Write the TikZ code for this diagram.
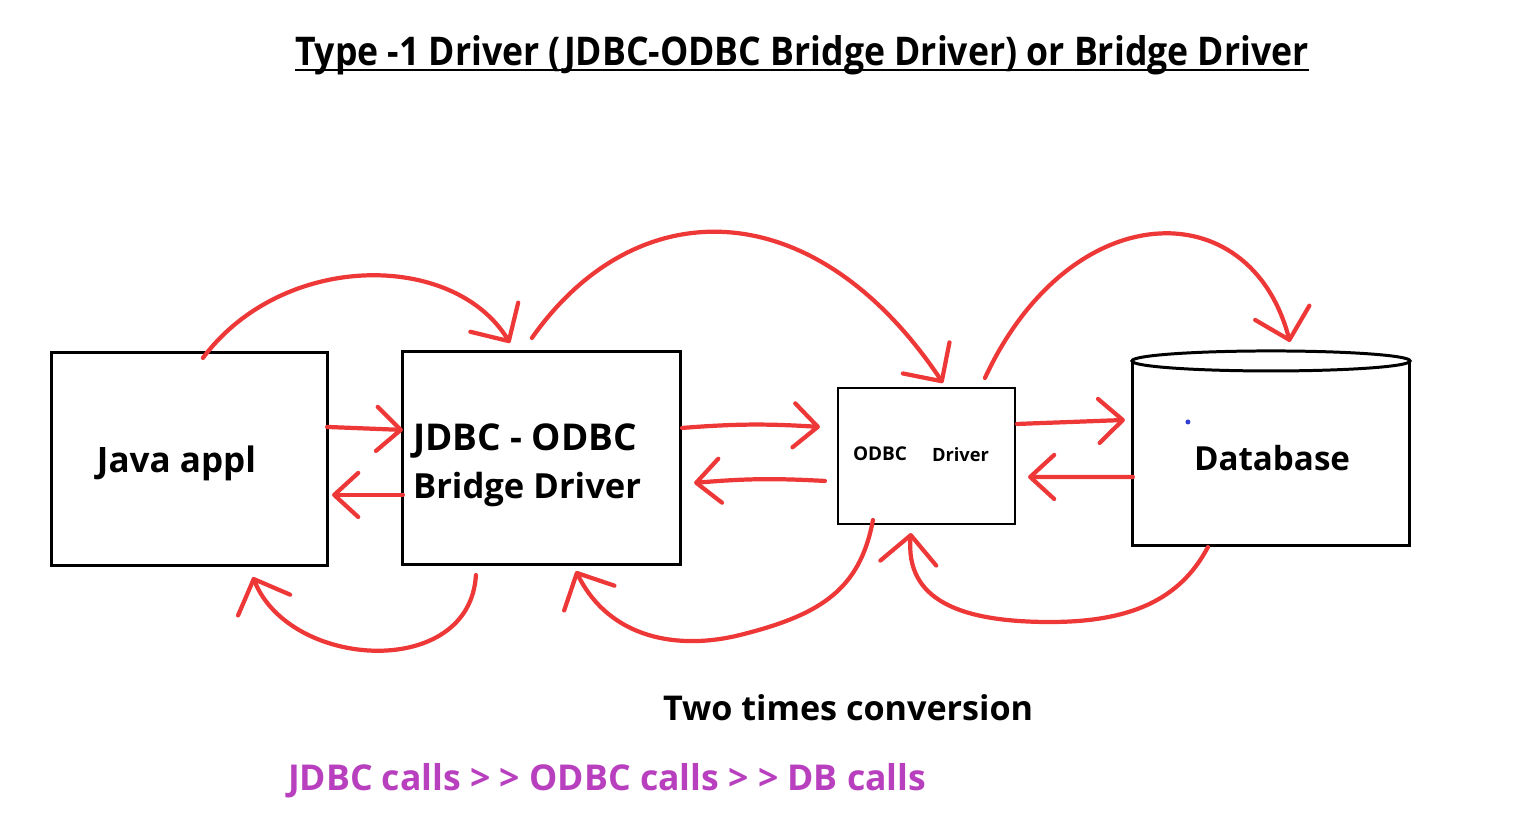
\documentclass[tikz,border=0pt]{standalone}
\usepackage{fontspec}
\setmainfont{Open Sans}
\usepackage{graphicx}
\usetikzlibrary{arrows.meta,calc}
\definecolor{penred}{RGB}{238,56,56}
\definecolor{callpurple}{RGB}{184,64,191}
\definecolor{dotblue}{RGB}{48,64,208}
\newcommand{\fitto}[2]{\resizebox{#1}{!}{\bfseries #2}}
\begin{document}
\begin{tikzpicture}[x=0.01cm,y=-0.01cm,
  box/.style={draw, line width=0.85pt, inner sep=0pt, outer sep=0pt},
  lbl/.style={inner sep=0pt, outer sep=0pt, anchor=base west},
  arr/.style={draw=penred, line width=1.2pt, line cap=round, line join=round,
    -{Straight Barb[length=2.4mm,width=4.4mm,round]}},
  bigarr/.style={arr, -{Straight Barb[length=2.8mm,width=5.6mm,round]}}]
\fill[white] (0,0) rectangle (1517,824);
\useasboundingbox (0,0) rectangle (1517,824);

% title
\node[lbl] (title) at (295,65) {\resizebox{10.13cm}{0.30cm}{\bfseries Type -1 Driver (JDBC-ODBC Bridge Driver) or Bridge Driver}};
\draw[line width=0.75pt] ($(title.base west)+(0,5)$) -- ($(title.base east)+(0,5)$);

% boxes
\node[box, minimum width=2.75cm, minimum height=2.12cm] (java) at (189.5,459) {};
\node[box, minimum width=2.77cm, minimum height=2.12cm] (jdbc) at (541.5,458) {};
\node[box, line width=0.6pt, minimum width=1.77cm, minimum height=1.36cm] (odbc) at (926.5,456) {};
\node[inner sep=0pt, outer sep=0pt, minimum width=2.76cm, minimum height=1.84cm] (db) at (1271,453) {};
\draw[line width=0.85pt] (db.north west) -- (db.south west) -- (db.south east) -- (db.north east);
\draw[line width=0.85pt, fill=white] (db.north) ellipse [x radius=1.39cm, y radius=0.1cm];
\fill[dotblue] ($(db.north west)+(55,61)$) circle [radius=0.025cm];

% labels
\node[lbl] (tjava) at (97,472) {\fitto{1.59cm}{Java appl}};
\node[lbl] (tjdbc1) at (413,450) {\fitto{2.24cm}{JDBC - ODBC}};
\node[lbl] (tjdbc2) at (413,498) {\fitto{2.28cm}{Bridge Driver}};
\node[lbl] (todbc1) at (853,460) {\fitto{0.54cm}{ODBC}};
\node[lbl] (todbc2) at (932,461) {\fitto{0.57cm}{Driver}};
\node[lbl] (tdb) at (1194,470) {\fitto{1.56cm}{Database}};
\node[lbl] (two) at (663,720) {\fitto{3.70cm}{Two times conversion}};
\node[lbl, text=callpurple] (calls) at (288,790) {\fitto{6.38cm}{JDBC calls > > ODBC calls > > DB calls}};

% arcs over the top
\draw[bigarr] ($(java.north west)+(151,5)$) .. controls (283,251) and (454,251) .. ($(jdbc.north west)+(107,-9)$);
\draw[bigarr] ($(jdbc.north west)+(129,-14)$) .. controls (636,190) and (814,190) .. ($(odbc.north west)+(105,-5)$);
\draw[bigarr] ($(odbc.north west)+(147,-10)$) .. controls (1070,195) and (1250,190) .. ($(db.north west)+(157,-19)$);

% arcs underneath
\draw[bigarr] ($(jdbc.south west)+(73,11)$) .. controls (470,680) and (290,670) .. ($(java.south west)+(201,12)$);
\draw[bigarr] ($(odbc.south west)+(35,-4)$) .. controls (860,590) and (820,615) .. (740,635) .. controls (680,650) and (610,640) .. ($(jdbc.south west)+(173,7)$);
\draw[bigarr] ($(db.south west)+(75,2)$) .. controls (1180,600) and (1130,622) .. (1050,622) .. controls (960,622) and (905,600) .. ($(odbc.south west)+(73,9)$);

% straight arrows
\draw[arr] ($(java.north east)+(0,74)$) -- ($(jdbc.north west)+(0,78)$);
\draw[arr] ($(jdbc.north west)+(0,143)$) -- ($(java.north east)+(5,142)$);
\draw[arr] ($(jdbc.north east)+(2,76)$) to[bend left=4] ($(odbc.north west)+(-18,39)$);
\draw[arr] ($(odbc.north west)+(-13,93)$) to[bend right=4] ($(jdbc.north east)+(14,131)$);
\draw[arr] ($(odbc.north east)+(2,36)$) -- ($(db.north west)+(-8,59)$);
\draw[arr] ($(db.north west)+(0,116)$) -- ($(odbc.north east)+(13,89)$);
\end{tikzpicture}
\end{document}
